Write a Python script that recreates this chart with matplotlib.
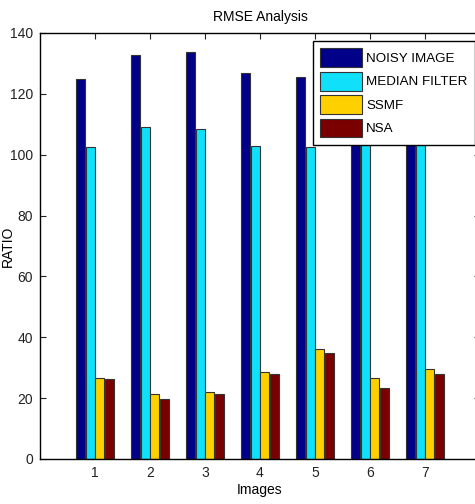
import matplotlib
matplotlib.use("Agg")
import matplotlib.pyplot as plt
from matplotlib import font_manager
import numpy as np

images = [1, 2, 3, 4, 5, 6, 7]
series_names = ["NOISY IMAGE", "MEDIAN FILTER", "SSMF", "NSA"]
noisy = [124.9, 132.8, 133.6, 127.0, 125.6, 128.0, 126.0]
median = [102.5, 109.0, 108.5, 103.0, 102.5, 112.0, 110.0]
ssmf = [26.5, 21.4, 22.1, 28.7, 36.0, 26.5, 29.5]
nsa = [26.2, 19.7, 21.4, 27.9, 34.9, 23.4, 27.9]
yticks = [0, 20, 40, 60, 80, 100, 120, 140]

colors = ["#000088", "#10E0FA", "#FFD000", "#7A0000"]

names = {f.name for f in font_manager.fontManager.ttflist}
fam = ['Liberation Sans Narrow'] if 'Liberation Sans Narrow' in names else []
plt.rcParams['font.family'] = fam + ['Liberation Sans', 'DejaVu Sans']
narrow = bool(fam)
fs = 12 if narrow else 10

fig = plt.figure(figsize=(4.75, 5.04), dpi=100)
ax = fig.add_axes([40/475, 1-459/504, 440/475, 426/504])

x = np.array(images, dtype=float)
step = 0.18
w = 0.165
for i, (vals, name, c) in enumerate(zip([noisy, median, ssmf, nsa], series_names, colors)):
    ax.bar(x + (i - 1.5) * step, vals, width=w, color=c, edgecolor="#333333",
           linewidth=0.8, label=name, zorder=2)

ax.set_xlim(0, 8)
ax.set_ylim(0, 140)
ax.set_xticks(images)
ax.set_yticks(yticks)
ax.tick_params(direction='in', top=True, right=True, length=4, labelsize=fs,
               colors='#222222', pad=5)
for s in ax.spines.values():
    s.set_linewidth(1.0)
ax.set_title("RMSE Analysis", fontsize=fs, pad=9)
ax.set_xlabel("Images", fontsize=fs, labelpad=2)
ax.set_ylabel("RATIO", fontsize=fs)
ax.yaxis.set_label_coords((15 - 40) / 440, 0.5)

leg = ax.legend(loc='upper left', bbox_to_anchor=(313/475, 1-41/504),
                bbox_transform=fig.transFigure, fancybox=False, framealpha=1,
                edgecolor='black', fontsize=fs - 0.4, handlelength=3.1,
                handleheight=1.8, labelspacing=0.34, handletextpad=0.35,
                borderpad=0.55, borderaxespad=0)
leg.get_frame().set_linewidth(1.0)

fig.savefig("out.png", dpi=100)
